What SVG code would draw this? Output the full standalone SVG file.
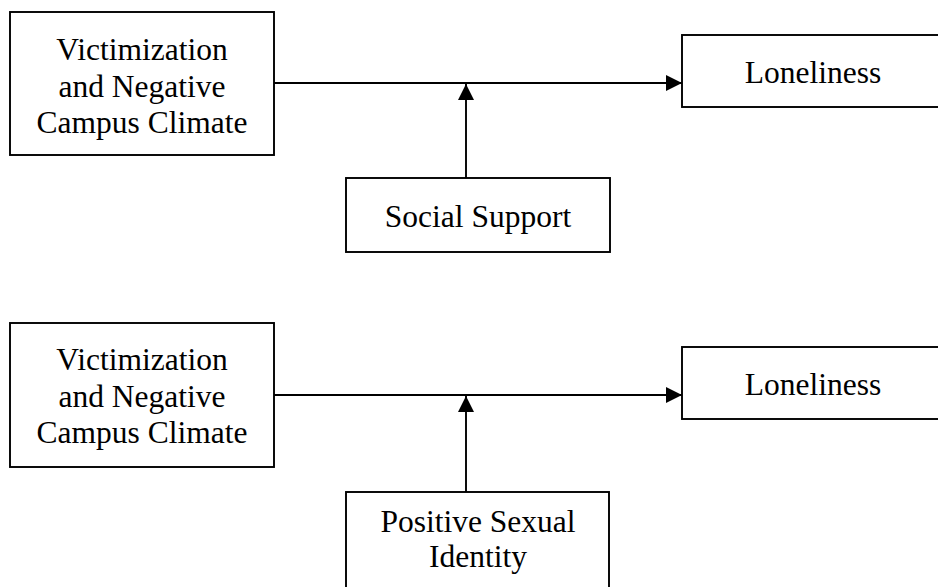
<svg xmlns="http://www.w3.org/2000/svg" width="938" height="587" viewBox="0 0 938 587">
<style>
.box{fill:#fff;stroke:#000;stroke-width:1.9}
.t{font-family:"Liberation Serif","Times New Roman",serif;font-size:31.5px;fill:#000;text-anchor:middle}
.ln{stroke:#000;stroke-width:1.9;fill:none}
</style>
<defs>
<marker id="ah" markerUnits="userSpaceOnUse" markerWidth="16" markerHeight="16" viewBox="0 0 16 16" refX="16" refY="8" orient="auto">
<path d="M0,0 L16,8 L0,16 Z" fill="#000"/>
</marker>
</defs>
<g id="connectors">
<line class="ln" x1="274" y1="83" x2="682" y2="83" marker-end="url(#ah)"/>
<line class="ln" x1="466" y1="178" x2="466" y2="84" marker-end="url(#ah)"/>
<line class="ln" x1="274" y1="395" x2="682" y2="395" marker-end="url(#ah)"/>
<line class="ln" x1="466" y1="492" x2="466" y2="396" marker-end="url(#ah)"/>
</g>
<g id="victim1">
<rect class="box" x="10" y="12" width="264" height="143"/>
<text class="t" x="142" y="60">Victimization</text>
<text class="t" x="142" y="97">and Negative</text>
<text class="t" x="142" y="133">Campus Climate</text>
</g>
<g id="lonely1">
<rect class="box" x="682" y="35" width="270" height="72"/>
<text class="t" x="813" y="83">Loneliness</text>
</g>
<g id="social">
<rect class="box" x="346" y="178" width="264" height="74"/>
<text class="t" x="478" y="227">Social Support</text>
</g>
<g id="victim2">
<rect class="box" x="10" y="323" width="264" height="144"/>
<text class="t" x="142" y="370">Victimization</text>
<text class="t" x="142" y="407">and Negative</text>
<text class="t" x="142" y="443">Campus Climate</text>
</g>
<g id="lonely2">
<rect class="box" x="682" y="347" width="270" height="72"/>
<text class="t" x="813" y="395">Loneliness</text>
</g>
<g id="identity">
<rect class="box" x="346" y="492" width="263" height="110"/>
<text class="t" x="478" y="532">Positive Sexual</text>
<text class="t" x="478" y="567">Identity</text>
</g>
</svg>
